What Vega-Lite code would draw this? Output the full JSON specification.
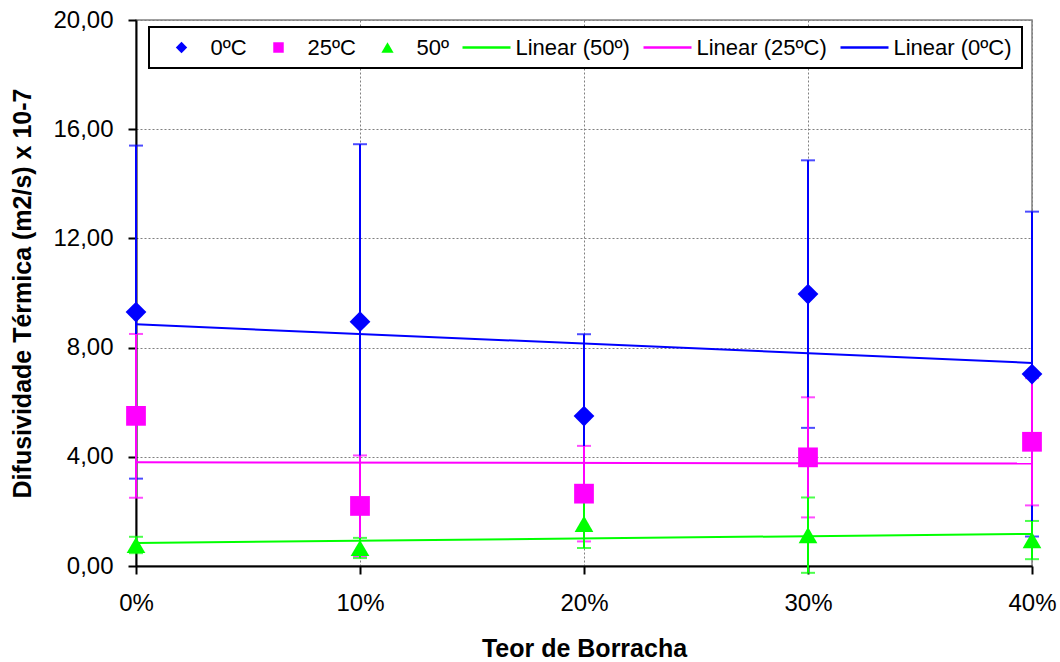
{
  "$schema": "https://vega.github.io/schema/vega-lite/v6.json",
  "autosize": {"type": "none"},
  "padding": {"left": 136, "top": 20, "right": 28, "bottom": 96},
  "width": 896,
  "height": 546,
  "background": "white",
  "config": {
    "font": "Liberation Sans",
    "view": {"stroke": "#808080", "strokeWidth": 1.5},
    "axis": {
      "labelFont": "Liberation Sans",
      "labelFontSize": 24,
      "labelColor": "black",
      "titleFont": "Liberation Sans",
      "titleFontSize": 25,
      "titleFontWeight": "bold",
      "titleColor": "black",
      "domainColor": "black",
      "domainWidth": 2,
      "tickColor": "black",
      "tickWidth": 2,
      "tickSize": 8,
      "gridColor": "#808080",
      "gridDash": [2, 2],
      "gridWidth": 1,
      "gridOpacity": 1
    },
    "legend": {
      "labelFont": "Liberation Sans",
      "labelFontSize": 22,
      "labelColor": "black"
    }
  },
  "data": {
    "values": [
      {"teor": 0,  "serie": "0ºC",  "tendencia": "Linear (0ºC)",  "media": 9.30, "erro": 6.10},
      {"teor": 10, "serie": "0ºC",  "tendencia": "Linear (0ºC)",  "media": 8.95, "erro": 6.50},
      {"teor": 20, "serie": "0ºC",  "tendencia": "Linear (0ºC)",  "media": 5.49, "erro": 3.00},
      {"teor": 30, "serie": "0ºC",  "tendencia": "Linear (0ºC)",  "media": 9.96, "erro": 4.90},
      {"teor": 40, "serie": "0ºC",  "tendencia": "Linear (0ºC)",  "media": 7.03, "erro": 5.95},
      {"teor": 0,  "serie": "25ºC", "tendencia": "Linear (25ºC)", "media": 5.50, "erro": 3.00},
      {"teor": 10, "serie": "25ºC", "tendencia": "Linear (25ºC)", "media": 2.20, "erro": 1.85},
      {"teor": 20, "serie": "25ºC", "tendencia": "Linear (25ºC)", "media": 2.65, "erro": 1.75},
      {"teor": 30, "serie": "25ºC", "tendencia": "Linear (25ºC)", "media": 3.98, "erro": 2.20},
      {"teor": 40, "serie": "25ºC", "tendencia": "Linear (25ºC)", "media": 4.55, "erro": 2.33},
      {"teor": 0,  "serie": "50º",  "tendencia": "Linear (50º)",  "media": 0.77, "erro": 0.30},
      {"teor": 10, "serie": "50º",  "tendencia": "Linear (50º)",  "media": 0.66, "erro": 0.37},
      {"teor": 20, "serie": "50º",  "tendencia": "Linear (50º)",  "media": 1.54, "erro": 0.88},
      {"teor": 30, "serie": "50º",  "tendencia": "Linear (50º)",  "media": 1.13, "erro": 1.38},
      {"teor": 40, "serie": "50º",  "tendencia": "Linear (50º)",  "media": 0.95, "erro": 0.70}
    ]
  },
  "encoding": {
    "x": {
      "field": "teor",
      "type": "quantitative",
      "scale": {"domain": [0, 40], "nice": false},
      "axis": {
        "title": "Teor de Borracha",
        "values": [0, 10, 20, 30, 40],
        "labelExpr": "datum.value + '%'",
        "labelPadding": 17,
        "labelFlush": false,
        "titlePadding": 21,
        "grid": true
      }
    },
    "y": {
      "field": "media",
      "type": "quantitative",
      "scale": {"domain": [0, 20], "nice": false, "zero": true},
      "axis": {
        "title": "Difusividade Térmica (m2/s) x 10-7",
        "values": [0, 4, 8, 12, 16, 20],
        "labelExpr": "replace(format(datum.value, '.2f'), '.', ',')",
        "labelPadding": 15,
        "labelFlush": false,
        "titleAngle": 270,
        "titleX": -114,
        "titleY": 273,
        "titleAlign": "center",
        "titleBaseline": "middle",
        "grid": true
      }
    }
  },
  "layer": [
    {
      "transform": [
        {"regression": "media", "on": "teor", "groupby": ["serie", "tendencia"], "method": "linear"}
      ],
      "mark": {"type": "line", "strokeWidth": 2},
      "encoding": {
        "color": {
          "field": "tendencia",
          "type": "nominal",
          "scale": {
            "domain": ["0ºC", "25ºC", "50º", "Linear (50º)", "Linear (25ºC)", "Linear (0ºC)"],
            "range": ["#0000FF", "#FF00FF", "#00FF00", "#00FF00", "#FF00FF", "#0000FF"]
          },
          "legend": {
            "title": null,
            "orient": "none",
            "legendX": 13,
            "legendY": 7,
            "direction": "horizontal",
            "fillColor": "white",
            "strokeColor": "black",
            "padding": 9.5,
            "columnPadding": 8,
            "symbolOffset": 12,
            "labelOffset": 18,
            "symbolSize": 2304,
            "symbolStrokeWidth": 0,
            "encode": {
              "legend": {"update": {"strokeWidth": {"value": 2}}},
              "symbols": {
                "update": {
                  "shape": {"signal": "datum.value == '0ºC' ? 'diamond' : datum.value == '25ºC' ? 'square' : datum.value == '50º' ? 'triangle-up' : 'stroke'"},
                  "size": {"signal": "datum.value == '0ºC' ? 130 : datum.value == '25ºC' ? 110 : datum.value == '50º' ? 150 : 2304"},
                  "fill": {"scale": "color", "field": "value"},
                  "stroke": {"scale": "color", "field": "value"},
                  "strokeWidth": {"signal": "indexof(['0ºC', '25ºC', '50º'], datum.value) >= 0 ? 0 : 2.5"},
                  "opacity": {"value": 1}
                }
              }
            }
          }
        }
      }
    },
    {
      "mark": {"type": "errorbar", "ticks": {"size": 14}, "thickness": 2},
      "encoding": {
        "yError": {"field": "erro"},
        "color": {"field": "serie", "type": "nominal"}
      }
    },
    {
      "mark": {"type": "point", "filled": true, "opacity": 1},
      "encoding": {
        "color": {"field": "serie", "type": "nominal"},
        "shape": {
          "field": "serie",
          "type": "nominal",
          "scale": {"domain": ["0ºC", "25ºC", "50º"], "range": ["diamond", "square", "triangle-up"]},
          "legend": null
        },
        "size": {
          "field": "serie",
          "type": "nominal",
          "scale": {"domain": ["0ºC", "25ºC", "50º"], "range": [430, 350, 520]},
          "legend": null
        }
      }
    }
  ]
}
